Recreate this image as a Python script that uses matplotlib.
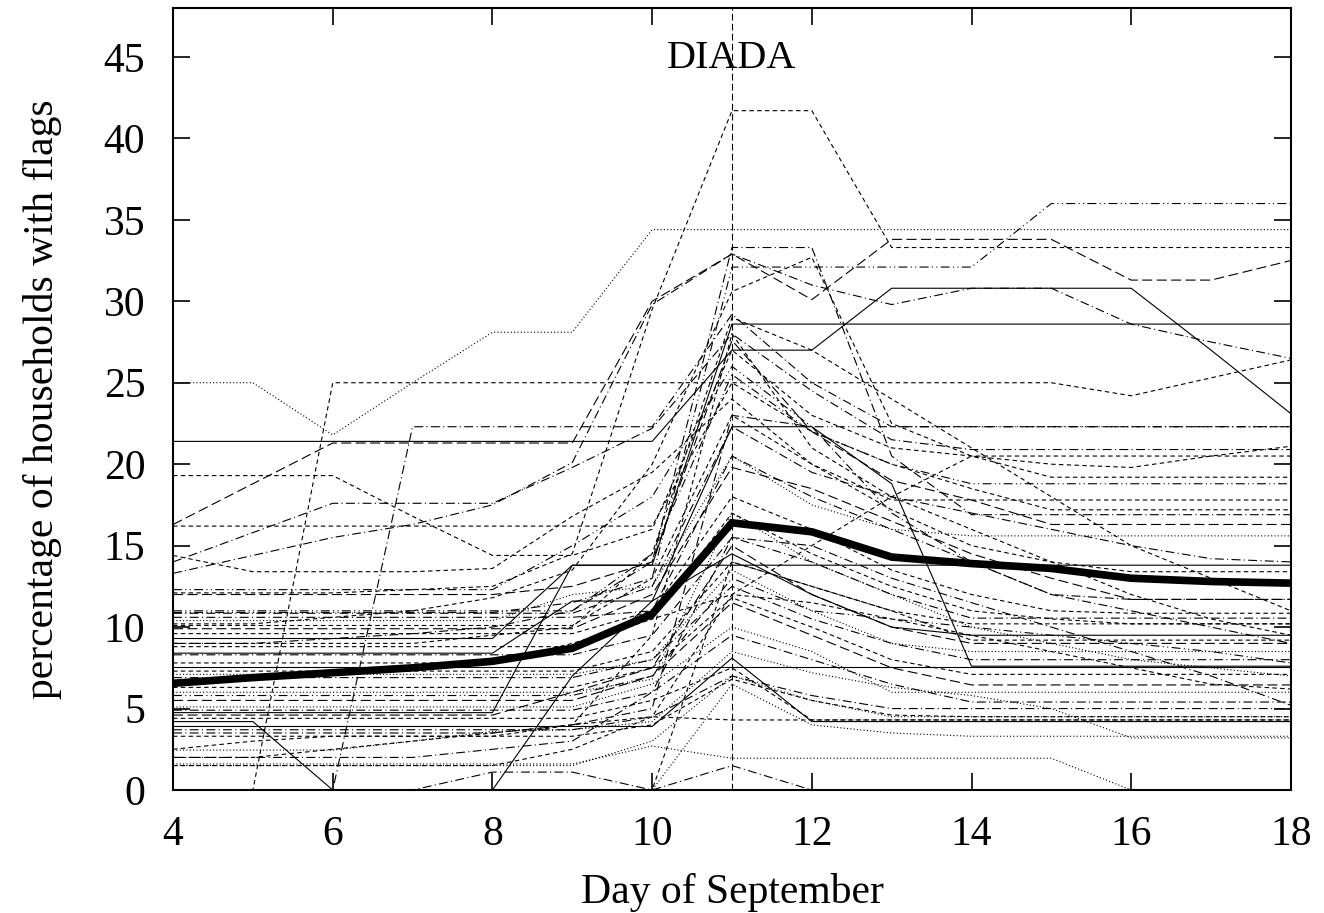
import matplotlib
matplotlib.use("Agg")
import matplotlib.pyplot as plt

plt.rcParams['font.family'] = ['Liberation Serif', 'DejaVu Serif']

# days of September
days = list(range(4, 19))

# average over all villages (thick line)
mean_pct = [6.55, 6.9, 7.2, 7.5, 7.9, 8.7, 10.8, 16.4, 15.85, 14.3, 13.9, 13.6, 13.0, 12.8, 12.7]

# one series per village, values for days 4..18
villages = [
    [25, 25, 21.8, 25, 28.1, 28.1, 34.4, 34.4, 34.4, 34.4, 34.4, 34.4, 34.4, 34.4, 34.4],
    [12.1, 12.1, 12.1, 12.3, 12.5, 14.5, 29.5, 41.7, 41.7, 33.3, 33.3, 33.3, 33.3, 33.3, 33.3],
    [16.3, 18.8, 21.3, 21.3, 21.3, 21.3, 30.0, 32.9, 30.1, 33.8, 33.8, 33.8, 31.3, 31.3, 32.5],
    [13.3, 14.4, 15.5, 16.3, 17.5, 20.1, 29.8, 32.9, 31.0, 29.8, 30.8, 30.8, 28.6, 27.5, 26.5],
    [10.2, 10.2, 10.6, 11.0, 11.8, 13.5, 20.0, 30.6, 32.7, 22.5, 20.5, 19.2, 19.2, 19.2, 19.2],
    [9.0, 9.0, 9.3, 9.6, 10.0, 11.0, 14.0, 33.3, 33.3, 20.5, 16.9, 16.9, 16.9, 16.9, 16.9],
    [21.4, 21.4, 21.4, 21.4, 21.4, 21.4, 21.4, 27.0, 27.0, 30.8, 30.8, 30.8, 30.8, 27.0, 23.1],
    [4.75, 4.75, 4.75, 4.75, 4.75, 13.8, 13.8, 28.6, 28.6, 28.6, 28.6, 28.6, 28.6, 28.6, 28.6],
    [10.9, 10.9, 10.9, 10.9, 10.9, 11.5, 13.0, 32.1, 32.1, 32.1, 32.1, 36.0, 36.0, 36.0, 36.0],
    [0, 0, 25, 25, 25, 25, 25, 25, 25, 25, 25, 25, 24.2, 25.3, 26.4],
    [0, 0, 0, 22.3, 22.3, 22.3, 22.3, 29.2, 25.0, 22.3, 22.3, 22.3, 22.3, 22.3, 22.3],
    [19.3, 19.3, 19.3, 16.8, 14.4, 14.4, 16.0, 27.0, 23.0, 21.0, 20.5, 20.5, 20.5, 20.5, 20.5],
    [14.0, 15.8, 17.6, 17.6, 17.6, 19.8, 22.2, 28.0, 24.5, 21.5, 20.9, 20.9, 20.9, 20.9, 20.9],
    [16.2, 16.2, 16.2, 16.2, 16.2, 16.2, 16.2, 25.0, 22.0, 20.0, 18.5, 17.2, 17.2, 17.2, 17.2],
    [12.3, 12.3, 12.3, 12.3, 12.3, 15.0, 18.0, 26.0, 22.3, 22.3, 22.3, 22.3, 22.3, 22.3, 22.3],
    [14.4, 13.4, 13.4, 13.4, 13.6, 16.8, 19.5, 24.0, 20.0, 17.8, 17.8, 17.8, 17.8, 17.8, 17.8],
    [12.0, 12.0, 12.0, 12.0, 12.0, 12.5, 14.0, 27.6, 22.0, 19.0, 17.8, 16.3, 16.3, 16.3, 16.3],
    [10.85, 10.85, 10.85, 10.85, 10.85, 10.85, 12.5, 22.3, 19.5, 18.0, 17.0, 16.0, 15.0, 14.2, 14.0],
    [10.4, 10.4, 10.4, 10.4, 10.4, 12.0, 12.5, 20.5, 17.5, 16.0, 15.6, 15.6, 15.6, 15.6, 15.6],
    [10.1, 10.1, 10.1, 10.1, 10.1, 10.1, 13.0, 23.0, 20.0, 17.2, 15.0, 14.0, 13.4, 13.4, 13.4],
    [9.9, 9.9, 9.9, 9.9, 9.9, 9.9, 12.0, 19.8, 18.5, 16.5, 14.5, 13.0, 11.7, 11.7, 11.7],
    [9.6, 9.6, 9.6, 9.6, 9.6, 9.6, 11.0, 18.0, 16.0, 13.5, 12.0, 11.0, 10.85, 10.85, 10.85],
    [9.3, 9.3, 9.3, 9.3, 9.3, 13.8, 13.8, 13.8, 13.8, 13.8, 13.8, 13.8, 13.8, 13.8, 13.8],
    [8.8, 8.8, 8.8, 8.8, 8.8, 8.8, 10.5, 17.0, 14.5, 12.5, 11.0, 10.5, 10.2, 10.2, 10.2],
    [8.4, 8.4, 8.4, 8.4, 8.4, 11.6, 11.6, 22.3, 22.3, 18.8, 7.6, 7.6, 7.6, 7.6, 7.6],
    [8.3, 8.3, 8.3, 8.3, 8.3, 8.3, 9.5, 15.5, 14.0, 12.0, 10.55, 10.55, 10.55, 10.55, 10.55],
    [7.57, 7.57, 7.57, 7.57, 7.57, 7.57, 7.57, 7.57, 7.57, 7.57, 7.57, 7.57, 7.57, 7.57, 7.57],
    [7.3, 7.3, 7.3, 7.3, 7.3, 7.3, 8.5, 14.0, 12.5, 11.0, 9.2, 9.2, 9.2, 9.2, 9.2],
    [7.1, 7.1, 7.1, 7.1, 7.1, 7.1, 8.0, 13.5, 11.0, 9.0, 8.5, 8.5, 8.5, 8.5, 8.5],
    [6.9, 6.9, 6.9, 6.9, 6.9, 6.9, 8.0, 12.5, 10.5, 9.0, 8.0, 8.0, 8.0, 8.0, 8.0],
    [6.3, 6.3, 6.3, 6.3, 6.3, 6.3, 7.5, 11.8, 10.0, 8.0, 7.1, 7.1, 7.1, 7.1, 7.1],
    [5.5, 5.5, 5.5, 5.5, 5.5, 5.5, 7.0, 11.5, 9.5, 7.5, 6.45, 6.45, 6.45, 6.45, 6.45],
    [5.1, 5.1, 5.1, 5.1, 5.1, 5.1, 6.5, 10.0, 8.5, 6.0, 6.0, 6.0, 6.0, 6.0, 6.0],
    [4.9, 4.9, 4.9, 4.9, 4.9, 4.9, 6.0, 9.5, 8.0, 6.5, 5.4, 5.4, 5.4, 5.4, 5.4],
    [3.9, 3.9, 3.9, 3.9, 3.9, 3.9, 3.9, 8.1, 4.2, 4.2, 4.2, 4.2, 4.2, 4.2, 4.2],
    [4.4, 4.4, 4.4, 4.4, 4.4, 4.4, 5.5, 7.5, 4.3, 4.3, 4.3, 4.3, 4.3, 4.3, 4.3],
    [4.2, 4.2, 0, 0, 0, 7.0, 11.6, 14.5, 12.0, 10.0, 9.5, 9.5, 9.5, 9.5, 9.5],
    [3.7, 3.7, 3.7, 3.7, 3.7, 3.7, 4.5, 7.0, 5.8, 5.0, 5.0, 5.0, 5.0, 5.0, 5.0],
    [3.3, 3.3, 3.3, 3.3, 3.3, 3.3, 4.0, 6.8, 5.5, 4.6, 4.5, 4.5, 4.5, 4.5, 4.5],
    [2.45, 2.45, 2.45, 3.0, 3.6, 3.7, 4.2, 8.5, 7.2, 6.3, 5.8, 5.0, 3.2, 3.2, 3.2],
    [1.6, 1.6, 1.6, 1.6, 1.6, 1.6, 2.7, 1.95, 1.95, 1.95, 1.95, 1.95, 0, 0, 0],
    [1.5, 1.5, 1.5, 1.5, 1.5, 1.5, 3.0, 7.0, 5.5, 4.5, 4.5, 4.5, 4.5, 4.5, 4.5],
    [0, 0, 0, 0, 1.1, 1.1, 0, 1.5, 0, 0, 0, 0, 0, 0, 0],
    [11.0, 11.0, 11.0, 11.0, 11.0, 11.0, 14.5, 25.5, 22.0, 20.0, 18.8, 18.8, 18.8, 18.8, 18.8],
    [7.8, 7.8, 7.8, 7.8, 7.8, 9.0, 10.5, 12.0, 15.0, 18.0, 20.5, 20.0, 19.8, 20.5, 21.1],
    [3.5, 3.5, 3.5, 3.5, 3.5, 4.0, 5.0, 23.0, 22.3, 17.0, 14.0, 12.0, 11.7, 11.7, 11.7],
    [2.5, 3.0, 3.3, 3.3, 3.3, 4.0, 9.5, 28.0, 21.0, 18.0, 16.0, 14.0, 12.0, 10.5, 9.5],
    [6.0, 6.0, 6.0, 6.0, 6.0, 6.0, 6.8, 17.0, 14.0, 12.0, 10.0, 9.0, 8.0, 7.5, 7.0],
    [4.6, 4.6, 4.6, 4.6, 4.6, 6.0, 7.5, 15.0, 12.0, 10.0, 9.0, 9.0, 9.0, 9.0, 9.0],
    [2.0, 2.0, 2.5, 3.0, 3.5, 4.0, 4.5, 4.3, 4.3, 4.3, 4.3, 4.3, 4.3, 4.3, 4.3],
    [10.6, 10.6, 10.6, 10.6, 10.6, 10.6, 11.0, 20.5, 18.0, 16.0, 14.0, 12.0, 11.0, 10.0, 9.0],
    [9.0, 9.0, 9.0, 9.0, 9.5, 10.0, 14.5, 29.0, 27.0, 24.0, 21.0, 18.0, 15.0, 13.0, 11.0],
    [5.8, 5.8, 5.8, 5.8, 5.8, 5.8, 7.0, 13.0, 11.0, 10.5, 10.0, 9.5, 9.0, 8.5, 7.8],
    [2.0, 2.0, 2.0, 2.0, 2.5, 3.0, 6.0, 15.5, 15.0, 13.0, 11.5, 10.0, 8.5, 7.0, 5.2],
    [1.5, 1.5, 1.5, 1.5, 1.5, 2.5, 4.5, 12.0, 11.5, 10.5, 9.5, 8.5, 7.5, 6.5, 6.2],
    [0, 0, 0, 0, 0, 0, 0, 14.0, 12.5, 11.0, 10.2, 10.2, 10.2, 10.2, 10.2],
    [0, 0, 0, 0, 0, 0, 0, 6.5, 4.0, 3.5, 3.3, 3.3, 3.3, 3.3, 3.3],
]

# gnuplot-like dash patterns, one per village
kinds = ['o', 'd', 'l', 'dd', 'd', 'dd', 's', 's', 'ddd', 'd', 'dd', 'd', 'dd', 'd', 'ddd',
         'd', 'l', 'dd', 'o', 'd', 'l', 'd', 's', 'd', 's', 'dd', 's', 'd', 'o', 'dd',
         'd', 'l', 'o', 'dd', 's', 'd', 's', 'dd', 'd', 'o', 'o', 'o', 'dd', 'ddd', 'd',
         'dd', 'd', 'o', 'l', 'd', 'dd', 'd', 'ddd', 'dd', 'd', 'd', 'o']
dashes = {'s': '-', 'd': (0, (4, 3)), 'o': (0, (1, 2)), 'l': (0, (9, 4)),
          'dd': (0, (8, 3, 1, 3)), 'ddd': (0, (8, 3, 1, 3, 1, 3))}

fig = plt.figure(figsize=(13.24, 9.13), dpi=100)
ax = fig.add_axes([0.1307, 0.1347, 0.8443, 0.8565])

for vals, k in zip(villages, kinds):
    ax.plot(days, vals, color='black', lw=0.8, linestyle=dashes[k])

ax.plot(days, mean_pct, color='black', lw=5.5, solid_joinstyle='miter')

ax.axvline(11, color='black', lw=0.8, linestyle=(0, (6, 3)))
ax.text(11, 44.9, 'DIADA', ha='center', va='center', fontsize=29)

ax.set_xlim(4, 18)
ax.set_ylim(0, 48)
ax.set_xticks(range(4, 19, 2))
ax.set_yticks(range(0, 46, 5))
ax.tick_params(direction='in', length=12, width=1.2, labelsize=30, top=True, right=True)
ax.tick_params(axis='x', pad=18)
ax.tick_params(axis='y', pad=20)
for s in ax.spines.values():
    s.set_linewidth(1.5)

ax.set_xlabel('Day of September', fontsize=30, labelpad=14)
ax.set_ylabel('percentage of households with flags', fontsize=30, labelpad=30)

fig.savefig('out.png', dpi=100)
